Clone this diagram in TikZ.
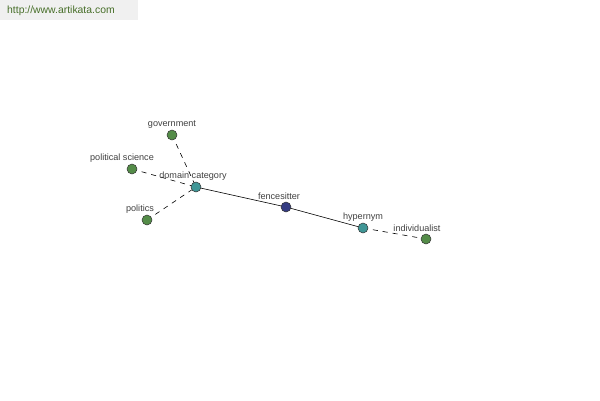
\documentclass[tikz,border=0pt]{standalone}
\usepackage{fontspec}
\setmainfont{Liberation Sans}
\begin{document}
\begin{tikzpicture}[x=1pt,y=-1pt,
  dot/.style={circle,draw=black!80,line width=0.5pt,minimum size=10pt,inner sep=0pt},
  lbl/.style={font=\fontsize{9.1}{10}\selectfont,text=black!75,inner sep=0pt},
  dsh/.style={draw=black,line width=0.6pt,dash pattern=on 5pt off 5pt},
  sld/.style={draw=black,line width=0.6pt}]
\useasboundingbox (0,0) rectangle (600,400);
\fill[black!6] (0,0) rectangle (138,20);
\node[anchor=west,font=\fontsize{10.4}{12}\selectfont,text={rgb,255:red,70;green,110;blue,40},inner sep=0pt] (url) at (7,10.5) {http://www.artikata.com};
\definecolor{gr}{RGB}{84,140,72}
\definecolor{tl}{RGB}{64,150,150}
\definecolor{nv}{RGB}{52,60,130}
\coordinate (gov) at (172,135);
\coordinate (ps) at (132,169);
\coordinate (dc) at (196,187);
\coordinate (pol) at (147,220);
\coordinate (fs) at (286,207);
\coordinate (hy) at (363,228);
\coordinate (ind) at (426,239);
\path[dsh] (gov) -- (dc);
\path[dsh] (ps) -- (dc);
\path[dsh] (pol) -- (dc);
\path[sld] (dc) -- (fs);
\path[sld] (fs) -- (hy);
\path[dsh] (hy) -- (ind);
\node[dot,fill=gr] (ngov) at (gov) {};
\node[dot,fill=gr] (nps) at (ps) {};
\node[dot,fill=tl] (ndc) at (dc) {};
\node[dot,fill=gr] (npol) at (pol) {};
\node[dot,fill=nv] (nfs) at (fs) {};
\node[dot,fill=tl] (nhy) at (hy) {};
\node[dot,fill=gr] (nind) at (ind) {};
\node[lbl] (lgov) at (172,124) {government};
\node[lbl] (lps) at (122,158) {political science};
\node[lbl] (ldc) at (193,176) {domain category};
\node[lbl] (lpol) at (140,209) {politics};
\node[lbl] (lfs) at (279,196) {fencesitter};
\node[lbl] (lhy) at (363,217) {hypernym};
\node[lbl] (lind) at (417,228) {individualist};
\end{tikzpicture}
\end{document}
